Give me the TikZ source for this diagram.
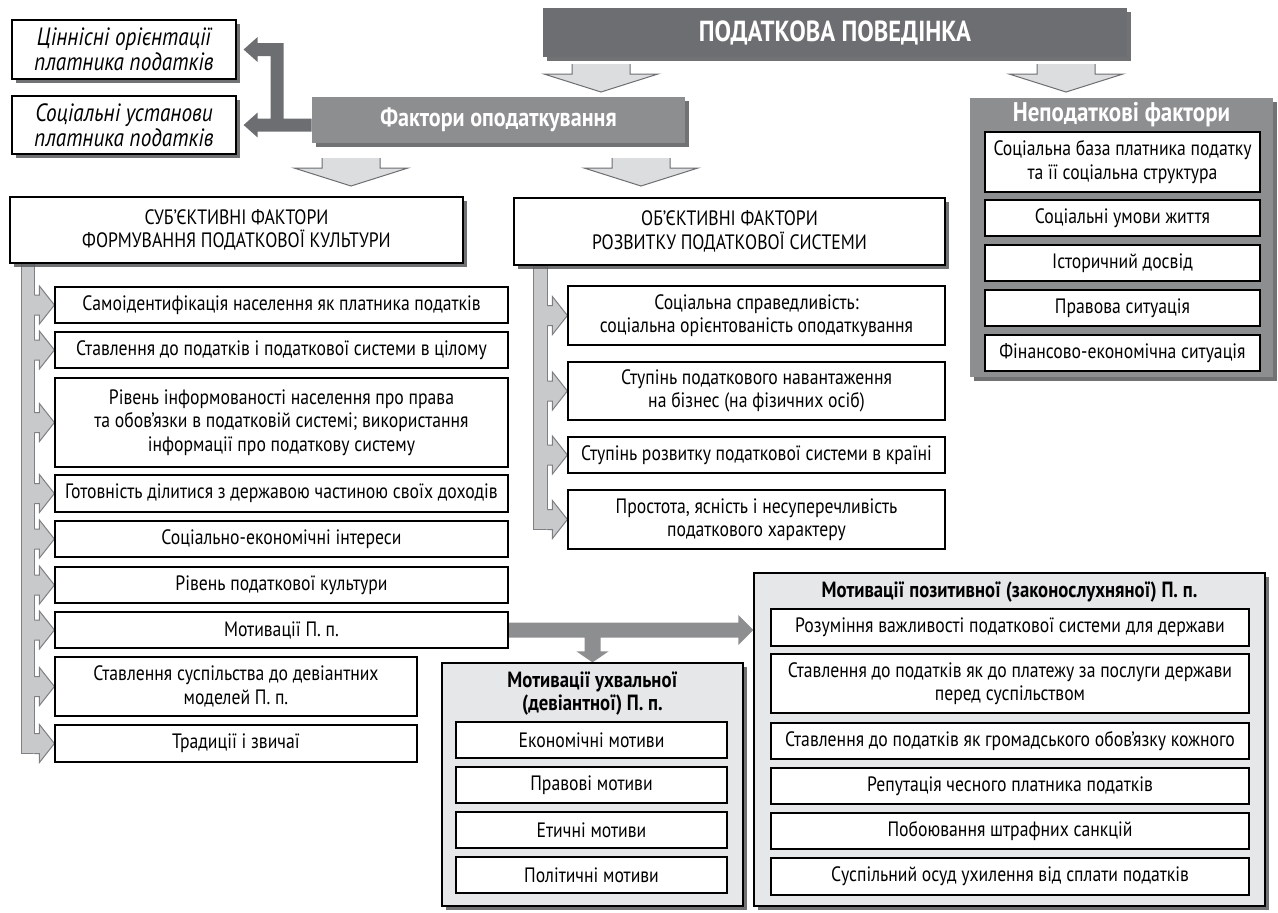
\documentclass[tikz,border=0pt]{standalone}
\usepackage{fontspec}
\setmainfont{PT Sans}[FakeStretch=0.85]
\usepackage{tikz}
\usetikzlibrary{positioning, calc, shadows, backgrounds}

\definecolor{darkbox}{HTML}{6D6E71}
\definecolor{midbox}{HTML}{8D8E90}
\definecolor{lightbox}{HTML}{E6E7E8}
\definecolor{arrowfill}{HTML}{DCDDDE}
\definecolor{barfill}{HTML}{C8C9CB}
\definecolor{barline}{HTML}{7E7F82}
\definecolor{shadowgray}{HTML}{58595B}

% hollow block arrow pointing down, #1 = middle of its top edge
\newcommand\hollowdown[1]{%
  \filldraw[fill=arrowfill, draw=darkbox, line width=0.5pt] (#1) ++(-29,0) -- ++(0,10) -- ++(-28,0) -- ++(57,18) -- ++(57,-18) -- ++(-28,0) -- ++(0,-10);}
% small arrow out of a side bar, #1 = its tip
\newcommand\sidearrow[1]{%
  \fill[barfill] (#1) ++(-21,-10) -- ++(6,0) -- ++(0,-9) -- (#1) -- ++(-15,19) -- ++(0,-9) -- ++(-6,0) -- cycle;
  \draw[barline, line width=0.5pt] (#1) ++(-20,-10) -- ++(5,0) -- ++(0,-9) -- (#1) -- ++(-15,19) -- ++(0,-9) -- ++(-5,0);}

\begin{document}
\begin{tikzpicture}[x=0.5pt, y=-0.5pt,
    every node/.style={inner sep=0pt, align=center},
    spot/.style n args={4}{at={({(#1+#3)/2},{(#2+#4)/2})}, minimum width={(#3-#1)*0.5pt}, minimum height={(#4-#2)*0.5pt}},
    shadowed/.style={drop shadow={shadow xshift=2pt, shadow yshift=-2pt, fill=shadowgray, opacity=0.85}},
    box/.style={draw=black, line width=0.6pt, fill=white, font=\fontsize{10.4}{11.7}\selectfont},
    headbox/.style={box, shadowed},
    italbox/.style={box, shadowed, font=\fontsize{12.5}{11}\selectfont\itshape},
    darkhead/.style={fill=darkbox, text=white, shadowed, font=\fontsize{14.5}{16}\selectfont\bfseries},
    midhead/.style={fill=midbox, text=white, shadowed, font=\fontsize{13}{14}\selectfont\bfseries},
    whitetitle/.style={text=white, font=\fontsize{13.5}{14}\selectfont\bfseries},
    greygroup/.style={draw=black, line width=0.6pt, fill=lightbox, shadowed},
    grouptitle/.style={font=\fontsize{11}{11.7}\selectfont\bfseries}
]
\useasboundingbox (0,0) rectangle (1278,912);

% Top level
\node[darkhead, spot={543}{8}{1127}{57}] (pov) {ПОДАТКОВА ПОВЕДІНКА};
\node[midhead, spot={312}{97}{685}{143}] (fakt) {Фактори оподаткування};
\node[italbox, spot={12}{20}{236}{79}] (cinn) {Ціннісні орієнтації\\платника податків};
\node[italbox, spot={12}{96}{236}{154}] (soc) {Соціальні установи\\платника податків};

% Non-tax factors
\node[fill=midbox, shadowed, spot={970}{98}{1273}{377}] (nep) {};
\node[whitetitle] (nept) at ($(nep.north)+(0,17)$) {Неподаткові фактори};
\foreach \n/\ya/\yb/\txt in {1/132/192/{Соціальна база платника податку\\та її соціальна структура},
    2/200/236/{Соціальні умови життя}, 3/245/281/{Історичний досвід},
    4/290/326/{Правова ситуація}, 5/335/371/{Фінансово-економічна ситуація}} {
    \node[box, spot={985}{\ya}{1260}{\yb}] (n\n) {\txt};
}

% Subjective and objective factors
\node[headbox, spot={10}{197}{463}{263}] (sub) {СУБ’ЄКТИВНІ ФАКТОРИ\\ФОРМУВАННЯ ПОДАТКОВОЇ КУЛЬТУРИ};
\node[headbox, spot={514}{198}{945}{265}] (obj) {ОБ’ЄКТИВНІ ФАКТОРИ\\РОЗВИТКУ ПОДАТКОВОЇ СИСТЕМИ};

\foreach \n/\xb/\ya/\yb/\txt in {1/508/287/323/{Самоідентифікація населення як платника податків},
    2/508/332/368/{Ставлення до податків і податкової системи в цілому},
    3/508/378/467/{Рівень інформованості населення про права\\та обов’язки в податковій системі; використання\\інформації про податкову систему},
    4/508/475/512/{Готовність ділитися з державою частиною своїх доходів},
    5/508/521/557/{Соціально-економічні інтереси},
    6/508/567/603/{Рівень податкової культури},
    7/508/612/648/{Мотивації П. п.},
    8/417/657/716/{Ставлення суспільства до девіантних\\моделей П. п.},
    9/417/725/762/{Традиції і звичаї}} {
    \node[box, spot={55}{\ya}{\xb}{\yb}] (l\n) {\txt};
}
\foreach \n/\ya/\yb/\txt in {1/286/345/{Соціальна справедливість:\\соціальна орієнтованість оподаткування},
    2/362/420/{Ступінь податкового навантаження\\на бізнес (на фізичних осіб)},
    3/437/473/{Ступінь розвитку податкової системи в країні},
    4/490/549/{Простота, ясність і несуперечливість\\податкового характеру}} {
    \node[box, spot={568}{\ya}{945}{\yb}] (r\n) {\txt};
}

% Motivations
\node[greygroup, spot={442}{663}{743}{906}] (ukh) {};
\node[grouptitle] (ukht) at ($(ukh.north)+(0,31)$) {Мотивації ухвальної\\(девіантної) П. п.};
\foreach \n/\ya/\yb/\txt in {1/722/758/{Економічні мотиви}, 2/767/803/{Правові мотиви},
    3/812/848/{Етичні мотиви}, 4/857/893/{Політичні мотиви}} {
    \node[box, spot={456}{\ya}{727}{\yb}] (u\n) {\txt};
}
\node[greygroup, spot={754}{573}{1265}{906}] (pos) {};
\node[grouptitle] (post) at ($(pos.north)+(0,20)$) {Мотивації позитивної (законослухняної) П. п.};
\foreach \n/\ya/\yb/\txt in {1/609/646/{Розуміння важливості податкової системи для держави},
    2/654/713/{Ставлення до податків як до платежу за послуги держави\\перед суспільством},
    3/723/759/{Ставлення до податків як громадського обов’язку кожного},
    4/768/804/{Репутація чесного платника податків},
    5/813/849/{Побоювання штрафних санкцій},
    6/858/895/{Суспільний осуд ухилення від сплати податків}} {
    \node[box, spot={771}{\ya}{1249}{\yb}] (p\n) {\txt};
}

% Hollow arrows between levels
\coordinate (a1) at (601,64);
\coordinate (a2) at (1066,64);
\coordinate (a3) at (351,158);
\coordinate (a4) at (641,158);
\foreach \a in {a1,a2,a3,a4} \hollowdown{\a};

\begin{scope}[on background layer]
% Elbow arrow to the two italic boxes
\coordinate (t1) at ($(cinn.east)+(7,0)$);
\coordinate (t2) at ($(soc.east)+(7,0)$);
\fill[darkbox] ($(fakt.west |- t2)+(0,-6.5)$) -- ($(t2)+(40,-6.5)$) -- ($(t1)+(40,-6.5)$)
    -- ($(t1)+(14,-6.5)$) -- ($(t1)+(14,-12.5)$) -- (t1) -- ($(t1)+(14,12.5)$) -- ($(t1)+(14,6.5)$)
    -- ($(t1)+(27,6.5)$) -- ($(t2)+(27,-6.5)$) -- ($(t2)+(14,-6.5)$) -- ($(t2)+(14,-12.5)$)
    -- (t2) -- ($(t2)+(14,12.5)$) -- ($(t2)+(14,6.5)$) -- ($(fakt.west |- t2)+(0,6.5)$) -- cycle;

% Side bars
\filldraw[fill=barfill, draw=barline, line width=0.5pt] ($(sub.south west)+(12,0)$) rectangle ($(l9.west)+(-20,10)$);
\foreach \n in {1,...,9} \sidearrow{l\n.west};
\filldraw[fill=barfill, draw=barline, line width=0.5pt] ($(obj.south west)+(20,0)$) rectangle ($(r4.west)+(-20,10)$);
\foreach \n in {1,...,4} \sidearrow{r\n.west};

% Arrow from motivations to both groups
\coordinate (mt) at (l7.east -| pos.west);
\coordinate (md) at (l7.east -| ukh.north);
\fill[midbox] ($(l7.east)+(0,-7.5)$) -- ($(mt)+(-15,-7.5)$) -- ($(mt)+(-15,-15)$) -- (mt)
    -- ($(mt)+(-15,15)$) -- ($(mt)+(-15,7.5)$) -- ($(md)+(8,7.5)$) -- ($(ukh.north)+(8,-11)$)
    -- ($(ukh.north)+(16,-11)$) -- (ukh.north) -- ($(ukh.north)+(-16,-11)$) -- ($(ukh.north)+(-8,-11)$)
    -- ($(md)+(-8,7.5)$) -- ($(l7.east)+(0,7.5)$) -- cycle;
\end{scope}
\end{tikzpicture}
\end{document}
